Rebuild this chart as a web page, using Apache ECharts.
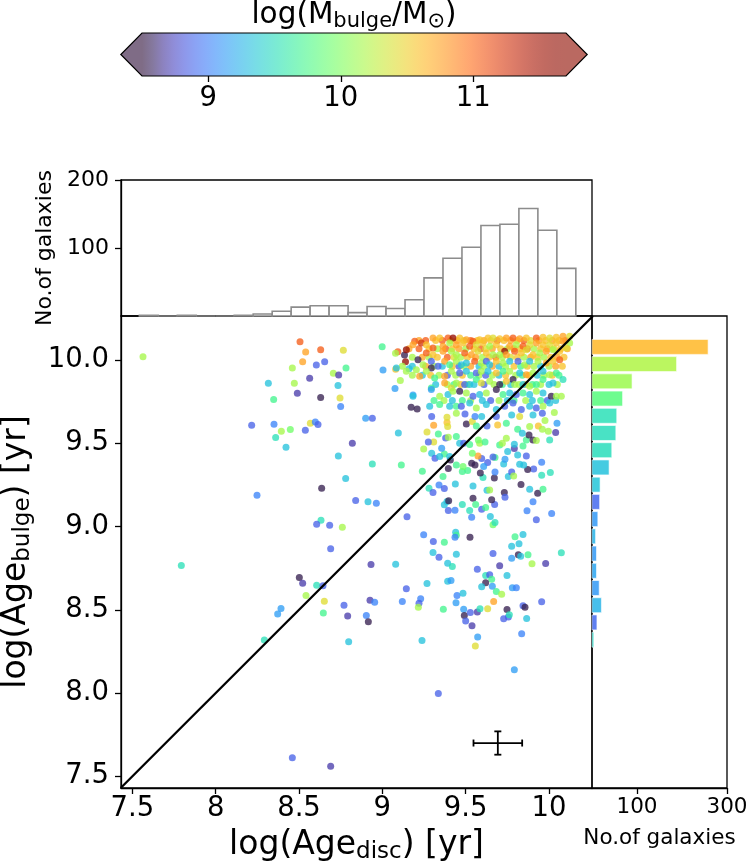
<!DOCTYPE html>
<html><head><meta charset="utf-8">
<script src="https://cdn.jsdelivr.net/npm/echarts@6/dist/echarts.min.js"></script>
<style>html,body{margin:0;padding:0;background:#fff}#chart{width:747px;height:867px}</style>
</head><body><div id="chart"></div>
<script>
// ---------------- data ----------------
// [log Age_disc, log Age_bulge, log M_bulge]
const outerGalaxies = [
[7.564,10.020,10.16],[8.506,10.110,11.06],[8.540,10.048,10.74],[8.630,10.062,11.06],[8.766,10.058,10.42],
[8.522,9.990,10.74],[8.604,9.970,8.86],[8.654,9.990,8.86],[8.460,9.952,10.16],[8.706,9.920,10.16],
[8.738,9.910,8.69],[8.782,9.952,9.72],[8.316,9.860,9.33],[8.472,9.860,10.16],[8.564,9.890,8.69],
[8.734,9.846,9.33],[8.490,9.800,8.69],[8.630,9.774,8.55],[8.746,9.772,10.42],[8.348,9.762,9.72],
[8.750,9.720,9.02],[8.216,9.608,8.86],[8.350,9.614,9.02],[8.394,9.572,10.16],[8.448,9.582,9.94],
[8.360,9.534,9.52],[8.538,9.578,8.86],[8.568,9.620,10.42],[8.598,9.628,9.02],[8.614,9.612,8.86],
[8.422,9.476,9.33],[8.820,9.500,8.69],[8.736,9.424,9.33],[8.780,9.288,9.33],[8.636,9.230,8.55],
[8.248,9.188,9.02],[8.840,9.156,8.86],[8.632,9.038,9.52],[8.606,9.014,8.86],[8.684,9.008,8.86],
[8.760,8.996,10.16],[8.690,8.866,8.86],
[7.794,8.766,9.52],[8.502,8.694,8.55],[8.522,8.660,8.69],[8.606,8.648,9.52],[8.644,8.644,8.86],
[8.542,8.586,10.16],[8.652,8.552,10.42],[8.770,8.528,8.86],[8.792,8.462,8.69],[8.646,8.480,9.72],
[8.392,8.508,9.14],[8.372,8.474,9.14],[8.292,8.318,9.52],[8.798,8.308,9.33],[8.460,7.612,8.86],
[8.690,7.560,8.69],
[8.926,8.558,8.69],[8.954,8.546,9.02],[8.904,8.466,9.02],[8.916,8.428,8.55],[9.120,8.550,9.02],
[9.230,8.566,9.02],[9.220,8.540,8.86],[9.216,8.516,10.16],[9.366,8.504,9.72],[9.442,8.542,9.14],
[9.488,8.504,9.14],[9.492,8.466,8.55],[9.500,8.432,8.86],[9.528,8.484,8.86],[9.570,8.486,8.69],
[9.586,8.506,9.52],[9.538,8.404,8.69],[9.632,8.506,10.42],[9.668,8.550,10.74],[9.748,8.502,8.55],
[9.728,8.446,8.86],[9.756,8.456,8.86],[9.762,8.470,9.52],[9.844,8.524,8.86],[9.856,8.516,8.55],
[9.866,8.448,9.33],[9.956,8.548,8.86],[9.238,8.316,9.33],[9.572,8.336,9.14],[9.558,8.282,10.42],
[9.836,8.356,9.02],[9.792,8.140,9.14],[9.336,7.998,8.86],
[8.900,9.650,9.14],[8.940,9.650,8.86],[9.096,9.562,9.33],[8.940,9.376,9.52],[9.114,9.370,9.72],
[8.914,9.148,9.33],[8.964,9.140,9.02],[9.148,9.058,8.86],[8.932,8.772,8.69],[9.080,8.774,9.33],
[9.248,8.950,9.02],[9.306,8.910,8.86],[9.372,8.906,9.72],[9.304,8.844,9.33],[9.340,8.816,8.86],
[9.444,8.834,9.33],[9.392,8.780,9.33],[9.420,8.760,9.52],[9.440,8.966,9.33],[9.444,8.948,9.72],
[9.436,8.936,9.02],[9.526,8.936,8.55],[9.144,8.626,8.86],[9.268,8.658,9.33],[9.392,8.672,9.33],
[9.412,8.676,9.14],[9.448,8.586,9.02],[9.484,8.600,9.33],[9.570,8.744,8.86],[9.620,8.706,9.52],
[9.644,8.710,8.86],[9.656,8.684,9.72],[9.620,8.662,8.55],[9.660,8.642,9.14],[9.596,8.638,9.33],
[9.684,8.610,9.72],[9.716,8.594,10.16],[9.748,8.706,9.33],[9.704,8.764,8.69],[9.664,8.838,8.86],
[9.776,8.810,9.14],[9.816,8.830,8.55],[9.830,8.822,9.33],[9.874,8.830,9.72],[9.898,8.776,10.16],
[9.980,8.778,8.69],[10.074,8.842,9.52],[9.776,8.882,9.33],[9.820,8.896,9.33],[9.796,8.938,9.72],
[9.844,8.952,9.33],[9.780,8.632,9.14],[9.804,8.632,9.02]
];
const middleGalaxies = [
[9.248,9.466,10.16],[9.296,9.440,9.33],[9.316,9.410,8.86],[9.240,9.332,9.72],[9.280,9.230,9.52],
[9.304,9.204,8.86],[9.340,9.250,9.02],[9.364,9.300,9.72],[9.372,9.228,8.86],[9.388,9.150,9.33],
[9.372,9.130,9.33],[9.398,9.154,8.55],[9.396,9.096,8.86],[9.436,9.098,9.02],[9.438,9.256,9.33],
[9.480,9.132,9.52],[9.524,9.096,9.52],[9.536,9.056,9.02],[9.544,9.170,8.55],[9.560,9.132,9.72],
[9.596,9.104,8.86],[9.620,9.114,9.72],[9.648,9.060,9.33],[9.664,9.010,9.94],[9.676,9.024,9.52],
[9.674,9.132,8.86],[9.656,9.160,8.55],[9.732,9.204,8.55],[9.736,9.176,8.86],[9.628,9.218,9.33],
[9.644,9.220,10.16],[9.544,9.244,9.33],[9.604,9.294,9.52],[9.588,9.322,8.55],[9.672,9.292,8.55],
[9.756,9.300,9.33],[9.776,9.328,8.86],[9.788,9.304,10.16],[9.832,9.252,8.55],[9.884,9.224,9.33],
[9.932,9.200,8.55],[9.964,9.224,9.72],[9.904,9.148,9.02],[9.868,9.094,9.02],[9.924,9.040,8.86],
[10.016,9.078,9.02],[10.008,9.324,9.52],[9.956,9.308,9.52],[9.956,9.386,9.02],[9.908,9.346,8.86],
[9.872,9.342,8.55],[9.824,9.374,9.33],[9.848,9.370,9.33],[9.864,9.424,8.86],[9.812,9.430,9.33],
[9.792,9.468,8.69],[9.752,9.450,9.33],[9.728,9.376,9.33],[9.736,9.404,9.14],[9.676,9.328,9.02],
[9.632,9.384,8.86],[9.608,9.360,9.14],[9.596,9.408,8.86],[9.574,9.424,10.74],[9.556,9.370,8.55],
[9.536,9.380,8.55],[9.512,9.336,9.72],[9.480,9.330,9.72],[9.484,9.360,9.94],[9.444,9.370,9.72],
[9.408,9.400,8.55],[9.396,9.348,8.55],[9.372,9.436,9.72],[9.344,9.420,9.33],[9.404,9.420,9.33],
[9.356,9.470,9.14],[9.380,9.532,8.86],[9.464,9.500,9.33],[9.488,9.500,8.86],[9.524,9.492,9.72],
[9.540,9.440,9.94],[9.584,9.500,10.16],[9.616,9.508,9.72],[9.576,9.520,9.94],[9.676,9.414,9.72],
[9.664,9.418,8.86],[9.704,9.490,9.72],[9.720,9.500,10.16],[9.744,9.530,10.16],[9.792,9.494,9.33],
[9.844,9.484,9.72],[9.864,9.520,9.72],[9.904,9.520,8.55],[9.880,9.550,8.55],[9.924,9.516,10.16],
[9.996,9.572,10.16],[10.040,9.564,8.69],[10.004,9.520,9.52],[10.048,9.620,9.14],[9.336,9.556,9.72],
[9.308,9.508,10.42],[9.268,9.568,10.42],[9.276,9.508,8.86],[9.308,9.608,10.74],[9.388,9.624,10.58],
[9.392,9.600,10.42],[9.444,9.540,9.72],[9.396,9.536,10.16],[9.504,9.616,8.55],[9.540,9.630,10.42],
[9.564,9.604,9.72],[9.628,9.604,8.86],[9.692,9.610,10.58],[9.744,9.620,9.72],[9.812,9.584,9.72],
[9.840,9.560,9.33],[9.884,9.600,10.16],[9.936,9.604,10.58],[9.960,9.584,10.16],[9.976,9.636,10.16],
[10.032,9.684,10.16],[9.296,9.660,8.86],[9.388,9.656,10.42],[9.444,9.680,10.16],[9.496,9.676,8.86],
[9.556,9.660,9.02],[9.596,9.660,9.33],[9.684,9.660,8.86],[9.776,9.670,9.33],[9.824,9.660,10.42],
[9.904,9.670,9.33],[9.960,9.680,8.86],
[8.999,10.080,9.72],[9.004,9.940,9.14],[9.080,9.944,10.58],[9.108,9.876,10.16],[9.076,9.828,9.14],
[9.093,10.050,11.06],[9.079,10.040,10.16],[9.133,10.030,8.55],[9.139,9.990,11.6],[9.184,9.790,9.14],
[9.173,9.716,8.55],[9.209,9.706,8.55]
];
const coreGalaxies = [
[9.194,10.112,11.06],[9.234,10.102,11.25],[9.304,10.132,10.74],[9.344,10.132,10.58],[9.394,10.132,11.06],
[9.424,10.132,11.6],[9.464,10.132,10.58],[9.504,10.122,10.74],[9.544,10.112,11.06],[9.584,10.122,10.58],
[9.634,10.132,10.58],[9.664,10.132,10.42],[9.704,10.128,10.58],[9.744,10.132,10.74],[9.784,10.132,11.06],
[9.824,10.128,10.74],[9.864,10.132,10.58],[9.924,10.132,11.06],[9.964,10.136,10.58],[10.004,10.132,10.42],
[10.044,10.136,10.58],[10.084,10.142,10.74],[10.124,10.142,10.42],
[9.144,10.062,11.6],[9.184,10.092,10.74],[9.264,10.092,10.58],[9.304,10.072,11.06],[9.364,10.082,10.74],
[9.404,10.102,10.16],[9.444,10.092,10.74],[9.484,10.102,10.58],[9.524,10.082,11.06],[9.564,10.092,10.42],
[9.604,10.102,10.58],[9.644,10.082,10.16],[9.684,10.092,10.58],[9.734,10.052,11.6],[9.764,10.082,10.74],
[9.804,10.092,10.16],[9.844,10.082,11.06],[9.884,10.092,10.42],[9.924,10.102,10.74],[9.964,10.092,10.58],
[10.004,10.092,10.42],[10.044,10.102,10.58],[10.084,10.112,10.74],[10.124,10.102,10.16],
[9.214,10.002,8.55],[9.264,10.042,11.06],[9.304,10.032,10.58],[9.364,10.052,10.74],[9.414,10.052,10.16],
[9.444,10.032,10.16],[9.494,10.042,11.06],[9.534,10.032,10.74],[9.574,10.052,10.42],[9.624,10.042,10.58],
[9.664,10.032,10.16],[9.704,10.032,10.16],[9.744,10.032,10.74],[9.794,10.052,11.06],[9.834,10.042,10.58],
[9.864,10.062,10.42],[9.904,10.032,10.58],[9.944,10.042,10.16],[9.984,10.052,10.74],[10.024,10.062,10.16],
[10.064,10.052,10.58],[10.104,10.072,10.42],
[9.084,9.952,9.33],[9.160,9.948,9.33],[9.204,9.942,10.16],[9.244,9.972,10.16],[9.294,9.992,8.86],
[9.294,9.952,8.55],[9.334,9.962,8.86],[9.374,9.992,10.74],[9.404,9.972,9.72],[9.444,9.992,10.16],
[9.474,9.972,9.33],[9.504,9.982,9.33],[9.554,9.992,11.06],[9.594,9.982,10.16],[9.624,9.992,8.86],
[9.644,9.972,9.33],[9.684,9.992,10.58],[9.724,9.982,10.16],[9.764,9.992,9.33],[9.814,9.992,8.86],
[9.854,9.972,10.16],[9.884,9.992,9.33],[9.934,9.992,10.16],[9.984,9.982,10.74],[10.024,9.992,10.58],
[10.064,10.002,11.06],
[9.144,9.932,10.16],[9.224,9.902,10.74],[9.264,9.932,10.16],[9.314,9.892,9.72],[9.374,9.902,10.74],
[9.414,9.932,10.16],[9.464,9.922,8.86],[9.504,9.932,9.33],[9.564,9.922,8.86],[9.594,9.932,10.16],
[9.634,9.932,9.33],[9.684,9.922,10.58],[9.724,9.932,9.72],[9.764,9.932,10.16],[9.784,9.882,8.55],
[9.824,9.922,9.33],[9.864,9.912,10.74],[9.904,9.922,10.16],[9.964,9.932,9.33],[10.004,9.912,10.16],
[10.044,9.922,9.72],
[9.294,9.832,9.72],[9.374,9.862,10.74],[9.414,9.832,10.42],[9.444,9.862,10.16],[9.494,9.852,8.86],
[9.524,9.852,9.33],[9.564,9.882,9.72],[9.594,9.862,10.42],[9.644,9.872,10.16],[9.704,9.852,8.55],
[9.744,9.872,10.58],[9.794,9.852,10.16],[9.844,9.852,9.33],[9.884,9.842,10.16],[9.924,9.852,9.72],
[9.964,9.882,9.72],[10.024,9.862,9.33],[10.084,9.882,9.52],
[9.184,9.782,9.33],[9.294,9.822,9.14],[9.344,9.782,10.16],[9.394,9.792,9.33],[9.424,9.812,10.16],
[9.464,9.812,8.55],[9.504,9.802,10.16],[9.544,9.782,8.86],[9.584,9.792,9.33],[9.624,9.802,10.16],
[9.684,9.822,8.55],[9.724,9.792,9.72],[9.764,9.802,9.33],[9.804,9.792,8.86],[9.844,9.802,9.72],
[9.884,9.792,9.33],[9.924,9.812,10.16],[9.964,9.802,9.33],[10.014,9.782,8.55],[10.044,9.782,10.16],
[10.074,9.782,10.16],
[9.284,9.722,9.33],[9.344,9.732,9.72],[9.404,9.722,9.33],[9.444,9.722,9.72],[9.474,9.722,8.86],
[9.524,9.742,9.33],[9.564,9.712,10.16],[9.624,9.732,9.33],[9.684,9.702,9.33],[9.734,9.722,8.86],
[9.784,9.742,8.86],[9.834,9.702,8.86],[9.884,9.722,9.33],[9.924,9.712,8.86],[9.964,9.722,10.16],
[10.004,9.742,9.33]
];
// overlapping galaxies in the crowded top band (between the rows above)
const crowdedGalaxies = [
[9.22,10.117,10.74],[9.26,10.117,11.06],[9.32,10.117,10.58],[9.36,10.117,11.06],[9.41,10.117,10.58],
[9.45,10.117,10.74],[9.49,10.117,10.42],[9.53,10.117,11.06],[9.57,10.117,10.58],[9.61,10.117,10.74],
[9.65,10.117,10.58],[9.69,10.117,11.06],[9.73,10.117,10.58],[9.77,10.117,10.74],[9.81,10.117,10.58],
[9.85,10.117,11.06],[9.89,10.117,10.42],[9.94,10.117,10.74],[9.98,10.117,10.58],[10.02,10.117,10.74],
[10.06,10.117,10.58],[10.10,10.117,11.06],
[9.16,10.067,10.74],[9.22,10.067,11.06],[9.28,10.067,10.58],[9.33,10.067,10.16],[9.38,10.067,11.06],
[9.42,10.067,10.58],[9.46,10.067,10.74],[9.50,10.067,10.16],[9.55,10.067,10.58],[9.59,10.067,11.06],
[9.62,10.067,10.42],[9.66,10.067,10.74],[9.71,10.067,10.58],[9.75,10.067,10.16],[9.79,10.067,10.74],
[9.83,10.067,10.58],[9.87,10.067,11.06],[9.91,10.067,10.16],[9.95,10.067,10.58],[9.99,10.067,10.74],
[10.03,10.067,10.42],[10.07,10.067,10.58],[10.11,10.067,10.74],
[9.18,10.017,10.16],[9.24,10.017,10.74],[9.28,10.017,10.16],[9.33,10.017,10.58],[9.39,10.017,11.06],
[9.43,10.017,10.42],[9.47,10.017,10.16],[9.51,10.017,10.58],[9.56,10.017,10.74],[9.60,10.017,10.16],
[9.64,10.017,10.58],[9.68,10.017,11.06],[9.72,10.017,10.16],[9.77,10.017,10.42],[9.81,10.017,10.58],
[9.85,10.017,10.16],[9.89,10.017,10.74],[9.93,10.017,10.58],[9.97,10.017,10.16],[10.01,10.017,10.58],
[10.05,10.017,10.74],[10.09,10.017,10.58],
[9.12,9.962,10.16],[9.18,9.962,9.33],[9.26,9.962,10.74],[9.31,9.962,10.16],[9.36,9.962,9.33],
[9.42,9.962,10.58],[9.46,9.962,8.86],[9.49,9.962,10.16],[9.53,9.962,10.74],[9.58,9.962,9.33],
[9.61,9.962,10.16],[9.66,9.962,10.74],[9.70,9.962,9.33],[9.74,9.962,10.16],[9.79,9.962,10.58],
[9.83,9.962,9.72],[9.87,9.962,10.58],[9.91,9.962,10.16],[9.95,9.962,9.33],[10.00,9.962,10.16],
[10.04,9.962,10.74],[10.08,9.962,10.58],
[9.18,9.908,10.16],[9.24,9.908,9.33],[9.29,9.908,10.58],[9.34,9.908,10.16],[9.39,9.908,8.86],
[9.44,9.908,10.16],[9.48,9.908,10.58],[9.53,9.908,9.72],[9.58,9.908,10.16],[9.62,9.908,8.86],
[9.66,9.908,10.16],[9.70,9.908,9.33],[9.74,9.908,10.58],[9.80,9.908,10.16],[9.84,9.908,9.72],
[9.88,9.908,10.58],[9.93,9.908,9.33],[9.97,9.908,10.16],[10.02,9.908,10.58],[10.06,9.908,9.72],
[9.32,9.852,9.33],[9.39,9.852,10.16],[9.43,9.852,9.72],[9.47,9.852,10.58],[9.51,9.852,10.16],
[9.55,9.852,9.33],[9.61,9.852,8.86],[9.67,9.852,10.16],[9.72,9.852,9.72],[9.77,9.852,9.33],
[9.82,9.852,10.16],[9.86,9.852,10.58],[9.90,9.852,9.72],[9.95,9.852,10.16],[10.00,9.852,9.33],
[10.05,9.852,10.16],
[9.31,9.757,9.72],[9.37,9.757,10.16],[9.42,9.757,9.33],[9.48,9.757,9.72],[9.53,9.757,10.16],
[9.60,9.757,9.33],[9.65,9.757,8.86],[9.70,9.757,10.16],[9.75,9.757,9.33],[9.79,9.757,9.72],
[9.86,9.757,10.16],[9.90,9.757,9.33],[9.95,9.757,9.72],[9.99,9.757,8.86],[10.04,9.757,9.33]
];

// top histogram (log Age_disc)
const topHistStart = 7.542;
const topHistWidth = 0.11387;
const topHistCounts = [1,0,1,0,0,1,3,7,13,15,15,5,14,11,24,56,85,101,133,135,158,126,70];

// right histogram (log Age_bulge), bottom to top
const rightHistStart = 8.269;
const rightHistWidth = 0.1034;
const rightHistCounts = [4,11,21,16,10,10,8,13,17,18,38,44,53,55,68,89,188,258];
const rightHistMass = [9.45,8.9,9.25,9.12,9.18,9.12,9.25,9.12,8.9,9.35,9.33,9.5,9.5,9.52,9.82,10.12,10.2,10.64];

// axes
const xRange = [7.432, 10.258];
const yRange = [7.430, 10.264];
const ageTicks = [7.5, 8, 8.5, 9, 9.5, 10];
const topHistRange = [0, 200];
const topHistTicks = [100, 200];
const rightHistRange = [0, 300];
const rightHistTicks = [100, 300];
const massRange = [8.5, 11.7];
const massTicks = [9, 10, 11];
const oneToOne = [7.43, 10.264];
const errorBar = [[9.693, 7.700, 0.146, 0.070]];

// ---------------- helpers ----------------
const FONT = 'DejaVu Sans';
function turboPoly(t) {
  const t2 = t*t, t3 = t2*t, t4 = t3*t, t5 = t4*t;
  return [
    0.13572138 + 4.61539260*t - 42.66032258*t2 + 132.13108234*t3 - 152.94239396*t4 + 59.28637943*t5,
    0.09140261 + 2.19418839*t + 4.84296658*t2 - 14.18503333*t3 + 4.27729857*t4 + 2.82956604*t5,
    0.10667330 + 12.64194608*t - 60.58204836*t2 + 110.36276771*t3 - 89.90310912*t4 + 27.34824973*t5
  ];
}
function turbo(t) {
  t = Math.max(0, Math.min(1, t));
  let v;
  if (t < 0.02) {
    const p = turboPoly(0.02), lo = [0.19, 0.07, 0.23], f = t / 0.02;
    v = [0,1,2].map(k => lo[k] + (p[k] - lo[k]) * f);
  } else {
    v = turboPoly(t);
  }
  return v.map(x => Math.round(255 * Math.max(0, Math.min(1, x))));
}
function tColor(t, a) { const [r,g,b] = turbo(t); return `rgba(${r},${g},${b},${a})`; }
function massColor(m, a) { return tColor((m - massRange[0]) / (massRange[1] - massRange[0]), a); }

function richName(big, small, pad) {
  return {
    a: {fontSize: big, fontFamily: FONT, color: '#000', lineHeight: big, padding: [0,0,pad,0]},
    s: {fontSize: small, fontFamily: FONT, color: '#000', lineHeight: small, verticalAlign: 'bottom'}
  };
}
const tickStyle = {color: '#000', width: 1.3};
const gridBase = {show: true, borderColor: '#000', borderWidth: 1.3, backgroundColor: 'transparent',
  containLabel: false, outerBoundsMode: 'none'};

const chart = echarts.init(document.getElementById('chart'), null, {renderer: 'canvas'});

const allGalaxies = outerGalaxies.concat(middleGalaxies, crowdedGalaxies, coreGalaxies);

const option = {
  animation: false,
  backgroundColor: '#fff',
  graphic: [{
    type: 'text', x: 354, y: 17, z: 10,
    style: {
      text: '{a|log(M}{s|bulge}{a|/M}{s|⊙}{a|)}',
      align: 'center', verticalAlign: 'middle',
      rich: richName(29.5, 21, 4)
    }
  }],
  grid: [
    Object.assign({left: 121, top: 316, width: 471, height: 472}, gridBase),
    Object.assign({left: 121, top: 180, width: 471, height: 136}, gridBase),
    Object.assign({left: 592, top: 316, width: 135, height: 472}, gridBase),
    {left: 142, top: 33, width: 424, height: 43, show: false, containLabel: false, outerBoundsMode: 'none'}
  ],
  xAxis: [
    {
      gridIndex: 0, type: 'value', min: xRange[0], max: xRange[1],
      axisLine: {show: true, lineStyle: tickStyle},
      axisTick: {show: true, customValues: ageTicks, length: 6, lineStyle: tickStyle},
      axisLabel: {customValues: ageTicks, formatter: v => String(v), fontSize: 27.5, fontFamily: FONT, color: '#000', margin: 7},
      splitLine: {show: false},
      name: '{a|log(Age}{s|disc}{a|) [yr]}', nameLocation: 'middle', nameGap: 43,
      nameTextStyle: {rich: richName(33, 23, 4)}
    },
    {gridIndex: 1, type: 'value', min: xRange[0], max: xRange[1], show: false},
    {
      gridIndex: 2, type: 'value', min: rightHistRange[0], max: rightHistRange[1],
      axisLine: {show: true, lineStyle: tickStyle},
      axisTick: {show: true, customValues: rightHistTicks, length: 6, lineStyle: tickStyle},
      axisLabel: {customValues: rightHistTicks, fontSize: 21.5, fontFamily: FONT, color: '#000', margin: 8},
      splitLine: {show: false},
      name: 'No.of galaxies', nameLocation: 'middle', nameGap: 39,
      nameTextStyle: {fontSize: 21.5, fontFamily: FONT, color: '#000'}
    },
    {
      gridIndex: 3, type: 'value', min: massRange[0], max: massRange[1],
      axisLine: {show: false},
      axisTick: {show: true, customValues: massTicks, length: 6, lineStyle: tickStyle},
      axisLabel: {customValues: massTicks, fontSize: 27.5, fontFamily: FONT, color: '#000', margin: 9},
      splitLine: {show: false}
    }
  ],
  yAxis: [
    {
      gridIndex: 0, type: 'value', min: yRange[0], max: yRange[1],
      axisLine: {show: true, lineStyle: tickStyle},
      axisTick: {show: true, customValues: ageTicks, length: 6, lineStyle: tickStyle},
      axisLabel: {customValues: ageTicks, formatter: v => v.toFixed(1), fontSize: 27.5, fontFamily: FONT, color: '#000', margin: 12},
      splitLine: {show: false},
      name: '{a|log(Age}{s|bulge}{a|) [yr]}', nameLocation: 'middle', nameRotate: 90, nameGap: 77,
      nameTextStyle: {rich: richName(33, 23, 4)}
    },
    {
      gridIndex: 1, type: 'value', min: topHistRange[0], max: topHistRange[1],
      axisLine: {show: true, lineStyle: tickStyle},
      axisTick: {show: true, customValues: topHistTicks, length: 6, lineStyle: tickStyle},
      axisLabel: {customValues: topHistTicks, fontSize: 22, fontFamily: FONT, color: '#000', margin: 12},
      splitLine: {show: false},
      name: 'No.of galaxies', nameLocation: 'middle', nameRotate: 90, nameGap: 58,
      nameTextStyle: {fontSize: 22, fontFamily: FONT, color: '#000'}
    },
    {gridIndex: 2, type: 'value', min: yRange[0], max: yRange[1], show: false},
    {gridIndex: 3, type: 'value', min: 0, max: 1, show: false}
  ],
  series: [
    {
      name: 'topHist', type: 'custom', xAxisIndex: 1, yAxisIndex: 1,
      data: topHistCounts.map((c, i) => [topHistStart + i * topHistWidth, c]),
      encode: {x: 0, y: 1},
      renderItem: function (params, api) {
        const x0 = api.value(0), c = api.value(1);
        const p0 = api.coord([x0, 0]);
        const p1 = api.coord([x0 + topHistWidth, c]);
        return {
          type: 'rect',
          shape: {x: p0[0], y: p1[1], width: p1[0] - p0[0], height: p0[1] - p1[1]},
          style: {fill: '#fff', stroke: '#8c8c8c', lineWidth: 1.6}
        };
      }
    },
    {
      name: 'rightHist', type: 'custom', xAxisIndex: 2, yAxisIndex: 2,
      data: rightHistCounts.map((c, i) => [c, rightHistStart + i * rightHistWidth, rightHistMass[i]]),
      encode: {x: 0, y: 1},
      renderItem: function (params, api) {
        const c = api.value(0), y0 = api.value(1), m = api.value(2);
        const pad = rightHistWidth * 0.065;
        const pA = api.coord([0, y0 + pad]);
        const pB = api.coord([c, y0 + rightHistWidth - pad]);
        return {
          type: 'rect',
          shape: {x: pA[0], y: pB[1], width: pB[0] - pA[0], height: pA[1] - pB[1]},
          style: {fill: massColor(m, 0.85), stroke: 'rgba(255,255,255,0.6)', lineWidth: 1}
        };
      }
    },
    {
      name: 'galaxies', type: 'scatter', xAxisIndex: 0, yAxisIndex: 0,
      data: allGalaxies, symbolSize: 7, z: 2,
      itemStyle: {color: p => massColor(p.value[2], 0.96)},
      emphasis: {disabled: true}
    },
    {
      name: 'oneToOne', type: 'line', xAxisIndex: 0, yAxisIndex: 0, z: 4,
      data: oneToOne.map(v => [v, v]), showSymbol: false, symbol: 'none',
      lineStyle: {color: '#000', width: 2.3}, clip: true
    },
    {
      name: 'errorBar', type: 'custom', xAxisIndex: 0, yAxisIndex: 0, z: 5,
      data: errorBar, encode: {x: 0, y: 1},
      renderItem: function (params, api) {
        const x = api.value(0), y = api.value(1), ex = api.value(2), ey = api.value(3);
        const l = api.coord([x - ex, y]), r = api.coord([x + ex, y]);
        const b = api.coord([x, y - ey]), t = api.coord([x, y + ey]);
        const cap = 3.5, st = {stroke: '#000', lineWidth: 1.8};
        return {type: 'group', children: [
          {type: 'line', shape: {x1: l[0], y1: l[1], x2: r[0], y2: r[1]}, style: st},
          {type: 'line', shape: {x1: b[0], y1: b[1], x2: t[0], y2: t[1]}, style: st},
          {type: 'line', shape: {x1: l[0], y1: l[1] - cap, x2: l[0], y2: l[1] + cap}, style: st},
          {type: 'line', shape: {x1: r[0], y1: r[1] - cap, x2: r[0], y2: r[1] + cap}, style: st},
          {type: 'line', shape: {x1: t[0] - cap, y1: t[1], x2: t[0] + cap, y2: t[1]}, style: st},
          {type: 'line', shape: {x1: b[0] - cap, y1: b[1], x2: b[0] + cap, y2: b[1]}, style: st}
        ]};
      }
    },
    {
      name: 'colorbar', type: 'custom', xAxisIndex: 3, yAxisIndex: 3,
      data: [[massRange[0], massRange[1]]], encode: {x: [0, 1]},
      renderItem: function (params, api) {
        const a = api.coord([api.value(0), 0]);
        const b = api.coord([api.value(1), 1]);
        const x0 = a[0], x1 = b[0], yb = a[1], yt = b[1], ym = (yb + yt) / 2;
        const ext = 0.05 * (x1 - x0);
        const stops = [];
        for (let i = 0; i <= 40; i++) stops.push({offset: i / 40, color: tColor(i / 40, 0.62)});
        return {type: 'group', children: [
          {type: 'polygon', shape: {points: [[x0, yt], [x0 - ext, ym], [x0, yb]]}, style: {fill: tColor(0, 0.62)}},
          {type: 'polygon', shape: {points: [[x1, yt], [x1 + ext, ym], [x1, yb]]}, style: {fill: tColor(1, 0.62)}},
          {type: 'rect', shape: {x: x0, y: yt, width: x1 - x0, height: yb - yt},
            style: {fill: new echarts.graphic.LinearGradient(0, 0, 1, 0, stops)}},
          {type: 'polygon', shape: {points: [[x0, yt], [x1, yt], [x1 + ext, ym], [x1, yb], [x0, yb], [x0 - ext, ym]]},
            style: {fill: 'none', stroke: '#000', lineWidth: 1.2}}
        ]};
      }
    }
  ]
};
chart.setOption(option);
</script></body></html>
